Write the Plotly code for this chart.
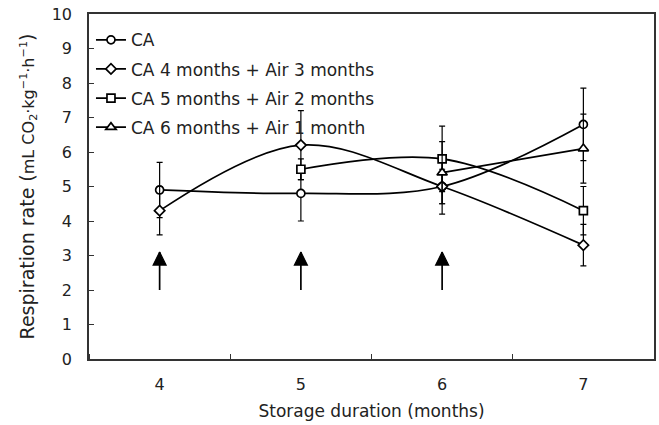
import plotly.graph_objects as go

months = [4, 5, 6, 7]
ca = [4.9, 4.8, 5.0, 6.8]
ca_up = [0.8, 0.8, 0.5, 1.05]
ca_dn = [0.8, 0.8, 0.5, 1.05]
ca4 = [4.3, 6.2, 5.0, 3.3]
ca4_up = [0.7, 1.0, 0.8, 0.6]
ca4_dn = [0.7, 1.0, 0.8, 0.6]
ca5 = [None, 5.5, 5.8, 4.3]
ca5_up = [0, 0.3, 0.95, 0.7]
ca5_dn = [0, 0.3, 0.95, 0.7]
ca6 = [None, None, 5.4, 6.1]
ca6_up = [0, 0, 0.9, 1.0]
ca6_dn = [0, 0, 0.9, 1.0]
names = ["CA", "CA 4 months + Air 3 months", "CA 5 months + Air 2 months", "CA 6 months + Air 1 month"]
symbols = ["circle", "diamond", "square", "triangle-up"]
sizes = [8, 8, 8, 9]
arrow_x = [4, 5, 6]
arrow_base = 2.0
arrow_tip = 3.1

FONT = "DejaVu Sans"
fig = go.Figure()
for i, (y, up, dn, nm, sym, sz) in enumerate(zip([ca, ca4, ca5, ca6], [ca_up, ca4_up, ca5_up, ca6_up],
                                  [ca_dn, ca4_dn, ca5_dn, ca6_dn], names, symbols, sizes)):
    fig.add_trace(go.Scatter(
        x=months, y=y, name=nm, mode="lines+markers", legendgroup=f"g{i}",
        line=dict(color="black", width=1.7, shape="spline", smoothing=1.0),
        marker=dict(symbol=sym, size=sz, color="white",
                    line=dict(color="black", width=1.7)),
        error_y=dict(type="data", array=up, arrayminus=dn, color="black", thickness=1.2, width=3),
        connectgaps=False,
    ))

# arrows: shaft + filled head (apex at arrow_tip)
shaft_x, shaft_y = [], []
for ax_ in arrow_x:
    shaft_x += [ax_, ax_, None]
    shaft_y += [arrow_base, arrow_tip, None]
fig.add_trace(go.Scatter(x=shaft_x, y=shaft_y, mode="lines", showlegend=False, hoverinfo="skip",
                         line=dict(color="black", width=1.7)))
fig.add_trace(go.Scatter(x=arrow_x, y=[arrow_tip] * len(arrow_x), mode="markers", showlegend=False,
                         hoverinfo="skip",
                         marker=dict(symbol="arrow-up", size=13, color="black",
                                     line=dict(color="black", width=1.2))))

fig.update_layout(
    width=659, height=425,
    margin=dict(l=89, r=5, t=14, b=66),
    paper_bgcolor="white", plot_bgcolor="white",
    font=dict(family=FONT, size=16, color="#222"),
    showlegend=True,
    legend=dict(x=0.0035, y=0.976, xanchor="left", yanchor="top", bgcolor="rgba(0,0,0,0)",
                font=dict(size=17, family=FONT, color="#222"), itemwidth=30, tracegroupgap=4),
    xaxis=dict(range=[3.5, 7.5], tickvals=months, ticktext=[str(m) for m in months],
               ticks="", showgrid=False, zeroline=False, showline=True, linecolor="#333",
               linewidth=1.6, mirror=True, tickfont=dict(size=16), automargin=False,
               ticklabelstandoff=10,
               minor=dict(tick0=3.5, dtick=1, ticks="inside", ticklen=5, tickcolor="#333", showgrid=False),
               title=dict(text="Storage duration (months)", font=dict(size=17), standoff=12)),
    yaxis=dict(range=[0, 10], dtick=1, ticks="inside", ticklen=5, tickcolor="#333",
               showgrid=False, zeroline=False, showline=True, linecolor="#333", linewidth=1.6,
               mirror=True, tickfont=dict(size=16), automargin=False, ticklabelstandoff=12,
               title=dict(text="Respiration rate (<span style='font-size:16px'>mL CO<sub>2</sub>·kg<sup>−1</sup>·h<sup>−1</sup></span>)",
                          font=dict(size=19), standoff=12)),
)
fig.write_html("out.html", config={"displayModeBar": False},
               post_script="document.body.style.margin='0';")
